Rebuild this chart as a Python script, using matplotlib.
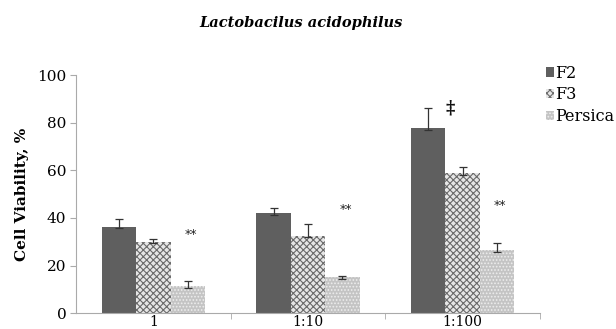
import matplotlib
matplotlib.use("Agg")
import matplotlib.pyplot as plt
import numpy as np

plt.rcParams['hatch.linewidth'] = 0.8

categories = ["1", "1:10", "1:100"]
series = ["F2", "F3", "Persica"]
values = {
    "F2": [36.3, 42.0, 77.9],
    "F3": [30.0, 32.4, 58.7],
    "Persica": [11.6, 15.1, 26.6],
}
err_up = {
    "F2": [3.3, 2.1, 8.3],
    "F3": [1.3, 5.1, 2.8],
    "Persica": [2.1, 0.7, 2.8],
}
err_down = {
    "F2": [0.6, 0.6, 1.0],
    "F3": [0.6, 0.5, 0.7],
    "Persica": [1.0, 0.8, 0.9],
}
stars_y = [33, 43.4, 45.4]
dagger_y = 86

fig = plt.figure(figsize=(6.16, 3.29), dpi=100)
ax = fig.add_axes([0.1234, 0.0477, 0.7532, 0.7243])

styles = {
    "F2": dict(facecolor="#5f5f5f", edgecolor="#5f5f5f", hatch=None),
    "F3": dict(facecolor="#e6e6e6", edgecolor="#6a6a6a", hatch="xxxxx"),
    "Persica": dict(facecolor="#c4c4c4", edgecolor="#ededed", hatch="....."),
}
x = np.arange(len(categories))
w = 0.223
for i, s in enumerate(series):
    pos = x + (i - 1) * w
    st = styles[s]
    ax.bar(pos, values[s], w, color=st["facecolor"], edgecolor=st["edgecolor"],
           hatch=st["hatch"], linewidth=0, label=s, zorder=2)
    ax.errorbar(pos, values[s], yerr=[err_down[s], err_up[s]], fmt="none",
                ecolor="#333333", elinewidth=0.9, capsize=3, capthick=0.9, zorder=3)

for j in range(3):
    ax.text(x[j] + w + 0.02, stars_y[j], "**", ha="center", va="center",
            fontsize=9, color="#222222", family="DejaVu Sans")
ax.text(x[2] - 0.08, dagger_y, "‡", ha="center", va="center", fontsize=13,
        fontweight="bold", color="#111111", family="DejaVu Serif")

ax.set_xlim(-0.5, 2.5)
ax.set_ylim(0, 100)
ax.set_yticks([0, 20, 40, 60, 80, 100])
ax.set_xticks(x)
ax.set_xticklabels(categories)
ax.set_xticks([0.5, 1.5, 2.5], minor=True)
ax.tick_params(axis="x", which="major", length=0, labelsize=10, pad=1.5)
ax.tick_params(axis="x", which="minor", length=4, color="#aaaaaa")
ax.tick_params(axis="y", length=4, color="#aaaaaa", labelsize=11, pad=3)
for lab in ax.get_xticklabels() + ax.get_yticklabels():
    lab.set_family("DejaVu Serif")
for sp in ["top", "right"]:
    ax.spines[sp].set_visible(False)
ax.spines["left"].set_color("#aaaaaa")
ax.spines["bottom"].set_color("#aaaaaa")

ax.set_ylabel("Cell Viability, %", fontsize=11, fontweight="bold", family="DejaVu Serif",
              labelpad=6)
fig.text(0.488, 0.93, "Lactobacilus acidophilus", ha="center", va="center",
         fontsize=10.5, fontweight="bold", style="italic", family="DejaVu Serif")

fig.legend(loc="upper left", bbox_to_anchor=(0.876, 0.823), frameon=False,
           prop={"family": "DejaVu Serif", "size": 11.5}, handlelength=0.5,
           handleheight=0.5, handletextpad=0.05, labelspacing=0.3, borderaxespad=0)

fig.savefig("out.png", dpi=100)
